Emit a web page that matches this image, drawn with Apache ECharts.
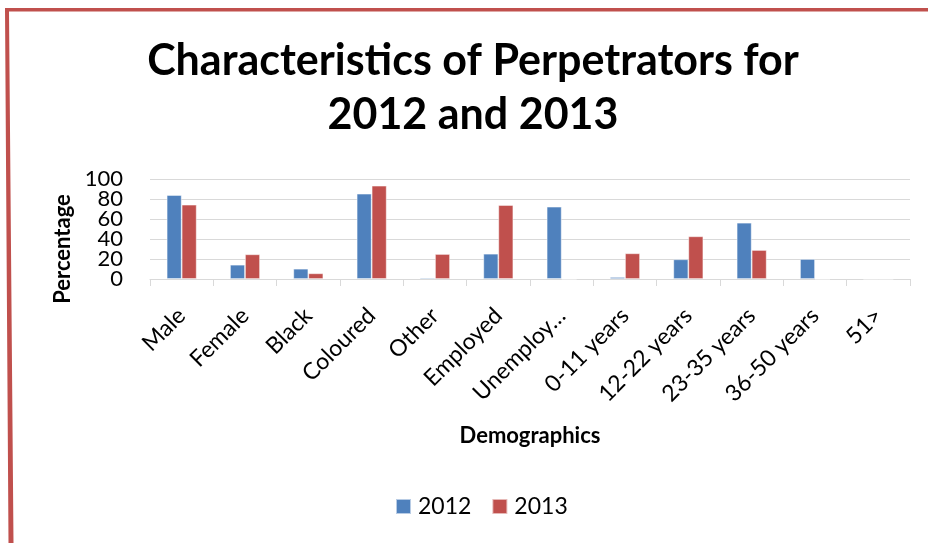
<!DOCTYPE html>
<html>
<head>
<meta charset="utf-8">
<script src="https://cdn.jsdelivr.net/npm/echarts@6/dist/echarts.min.js"></script>
<style>html,body{margin:0;padding:0;background:#fff}#c{width:928px;height:543px}</style>
</head>
<body>
<div id="c"></div>
<script>
const categories = ['Male','Female','Black','Coloured','Other','Employed','Unemploy…','0-11 years','12-22 years','23-35 years','36-50 years','51>'];
const values2012 = [84, 14.3, 10.3, 85.3, 1.3, 25.3, 72.3, 2, 19.7, 56.3, 20, 0];
const values2013 = [74.3, 24.7, 5.7, 93.3, 25, 74, 0, 25.7, 42.7, 29, 0, 0];
const yTicks = [0, 20, 40, 60, 80, 100];
const seriesNames = ['2012', '2013'];

const FONT = 'Lato';
const chart = echarts.init(document.getElementById('c'), null, {renderer: 'canvas'});
const baseGraphic = [
  {type: 'polygon', shape: {points: [[5, 8], [928, 8], [928, 11.5], [9, 11.5], [13.5, 543], [8.5, 543]]}, style: {fill: '#c0504d'}, silent: true},
  {type: 'text', x: 63, y: 249, rotation: Math.PI / 2,
   style: {text: 'Percentage', fontFamily: FONT, fontWeight: 'bold', fontSize: 22, fill: '#000', align: 'center', verticalAlign: 'middle'}}
];
chart.setOption({
  animation: false,
  backgroundColor: '#fff',
  textStyle: {fontFamily: FONT},
  title: {
    text: 'Characteristics of Perpetrators for\n2012 and 2013',
    left: 473,
    textAlign: 'center',
    top: 34,
    padding: 0,
    textStyle: {fontFamily: FONT, fontWeight: 'bold', fontSize: 43, lineHeight: 54, color: '#000'}
  },
  graphic: baseGraphic,
  legend: {
    data: seriesNames,
    left: 395,
    top: 495,
    padding: 0,
    icon: 'rect',
    itemWidth: 15,
    itemHeight: 15,
    itemGap: 20,
    textStyle: {fontFamily: FONT, fontSize: 23, color: '#000', padding: [0, 0, 0, 2]}
  },
  grid: {left: 150, right: 18, top: 179, bottom: 264, containLabel: false},
  xAxis: {
    type: 'category',
    data: categories,
    name: 'Demographics',
    nameLocation: 'middle',
    nameGap: 146,
    nameTextStyle: {fontFamily: FONT, fontWeight: 'bold', fontSize: 22, color: '#000'},
    axisLine: {lineStyle: {color: '#d9d9d9', width: 1}},
    axisTick: {show: true, length: 7, lineStyle: {color: '#d9d9d9'}},
    axisLabel: {rotate: 45, interval: 0, margin: 33, fontFamily: FONT, fontSize: 23, color: '#000'}
  },
  yAxis: {
    type: 'value',
    min: yTicks[0],
    max: yTicks[yTicks.length - 1],
    interval: yTicks[1] - yTicks[0],
    axisLine: {show: false},
    axisTick: {show: false},
    axisLabel: {show: false},
    splitLine: {lineStyle: {color: '#d9d9d9', width: 1}}
  },
  series: [
    {name: seriesNames[0], type: 'bar', data: values2012, barWidth: 15, barGap: '0%',
     itemStyle: {color: '#4f81bd', borderColor: 'rgba(255,255,255,0.6)', borderWidth: 0.8}},
    {name: seriesNames[1], type: 'bar', data: values2013, barWidth: 15, barGap: '0%',
     itemStyle: {color: '#c0504d', borderColor: 'rgba(255,255,255,0.6)', borderWidth: 0.8}}
  ]
});
// Y tick labels placed through the axis scale (they overlap slightly, as in the original)
const tickLabels = yTicks.map(function (v) {
  const p = chart.convertToPixel({gridIndex: 0}, [0, v]);
  return {type: 'text', x: 123, y: p[1],
          style: {text: String(v), fontFamily: FONT, fontSize: 22, fill: '#000', align: 'right', verticalAlign: 'middle'}};
});
chart.setOption({graphic: baseGraphic.concat(tickLabels)});
</script>
</body>
</html>
